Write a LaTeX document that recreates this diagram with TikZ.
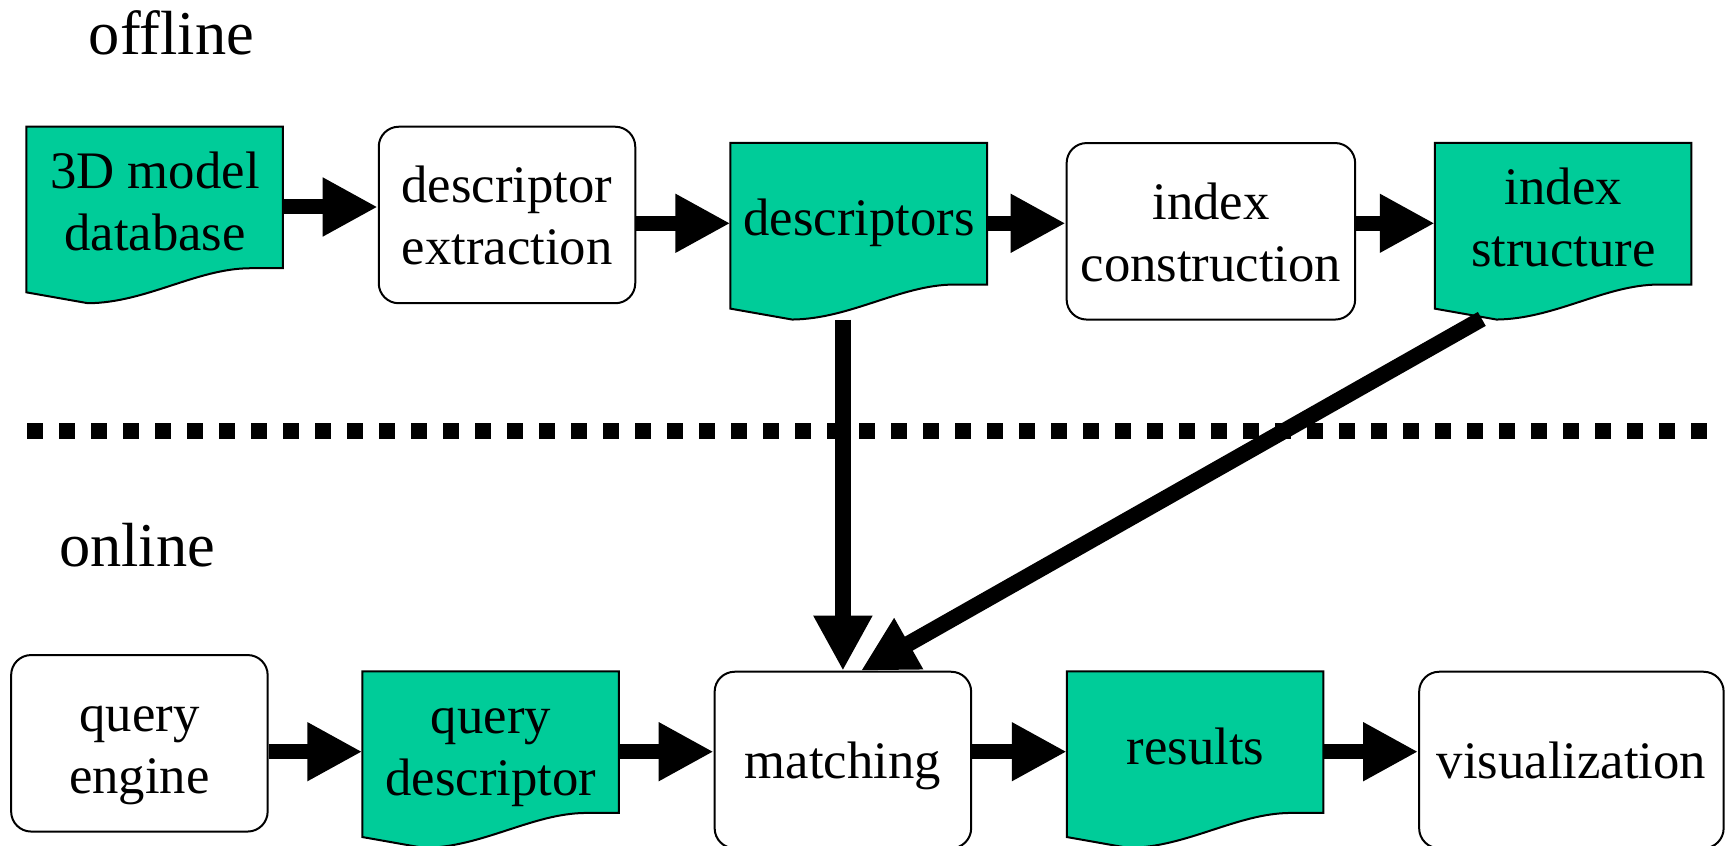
\documentclass[tikz,border=0pt]{standalone}
\usepackage{fontspec}
\setmainfont{Liberation Serif}
\usetikzlibrary{arrows.meta,calc,backgrounds}

\definecolor{docgreen}{RGB}{0,204,153}

\newcommand{\hstrut}{\rule{0pt}{8.7mm}}
\newcommand{\hstrutbox}{\rule{0pt}{11.25mm}}
\newcommand{\dstrut}{\rule[-3.72mm]{0pt}{0pt}}

\tikzset{
  boxfont/.style={font=\fontsize{30}{35.3}\selectfont},
  process/.style={boxfont, draw, line width=0.4mm, rounded corners=4mm, align=center,
                  inner sep=0pt, minimum width=51.3mm, minimum height=35.3mm},
  doc/.style={boxfont, align=center, inner sep=0pt, minimum width=51.3mm, minimum height=32mm},
  docline/.style={draw=black, fill=docgreen, line width=0.4mm},
  phase/.style={font=\fontsize{35.5}{40}\selectfont, inner sep=0pt},
  flow/.style={line width=3mm, -{Triangle[length=11mm,width=11mm]}},
  divider/.style={line width=3.2mm, dash pattern=on 3.2mm off 3.2mm}
}

\newcommand{\docpage}[1]{%
  \filldraw[docline, shift={(#1.north west)}] (0,0) -- (256.6,0) -- (256.6,141.6) -- (223.3,141.6)
    .. controls (170,142) and (120,176) .. (61.7,176.6) -- (0,165.7) -- cycle;}

\begin{document}
\begin{tikzpicture}[x=0.2mm, y=-0.2mm]
    \useasboundingbox (0,0) rectangle (1732,846);

    \node[phase, anchor=base] (offl) at (171.5,55)  {offline};
    \node[phase, anchor=base] (onl)  at (137,566.7) {online};

    \node[doc]     (db)    at (155,207)      {\hstrut 3D model\\database\dstrut};
    \node[process] (ext)   at (507,215)      {\hstrutbox descriptor\\extraction\dstrut};
    \node[doc]     (desc)  at (859,223.3)    {\hstrut descriptors\dstrut};
    \node[process, minimum width=57.7mm] (idxc) at (1210.9,231.3) {\hstrutbox index\\construction\dstrut};
    \node[doc]     (idxs)  at (1563.4,223.3) {\hstrut index\\structure\dstrut};

    \node[process] (qe)    at (139.4,743.3)  {\hstrutbox query\\engine\dstrut};
    \node[doc]     (qd)    at (490.9,751.7)  {\hstrut query\\descriptor\dstrut};
    \node[process] (match) at (842.9,760)    {\hstrutbox matching\dstrut};
    \node[doc]     (res)   at (1195.4,751.7) {\hstrut results\dstrut};
    \node[process, minimum width=60.9mm] (viz) at (1571.4,760) {\hstrutbox visualization\dstrut};

    \begin{scope}[on background layer]
      \docpage{db}
      \docpage{desc}
      \docpage{idxs}
      \docpage{qd}
      \docpage{res}
    \end{scope}

    \draw[divider] (27.3,431.3) -- (1707.3,431.3);

    \draw[flow] (db.east) -- (db.east -| ext.west);
    \draw[flow] (ext.east |- desc.west) -- (desc.west);
    \draw[flow] (desc.east) -- (desc.east -| idxc.west);
    \draw[flow] (idxc.east |- idxs.west) -- (idxs.west);

    \draw[flow] (qe.east |- qd.west) -- (qd.west);
    \draw[flow] (qd.east) -- (qd.east -| match.west);
    \draw[flow] (match.east |- res.west) -- (res.west);
    \draw[flow] (res.east) -- (res.east -| viz.west);

    \draw[flow, line width=3.2mm] ($(desc.south -| match.north)+(0,16)$) -- (match.north);
    \draw[flow, line width=3.2mm] ($(idxs.north west)+(47,176)$) -- ($(match.north)+(18,0)$);
\end{tikzpicture}
\end{document}
